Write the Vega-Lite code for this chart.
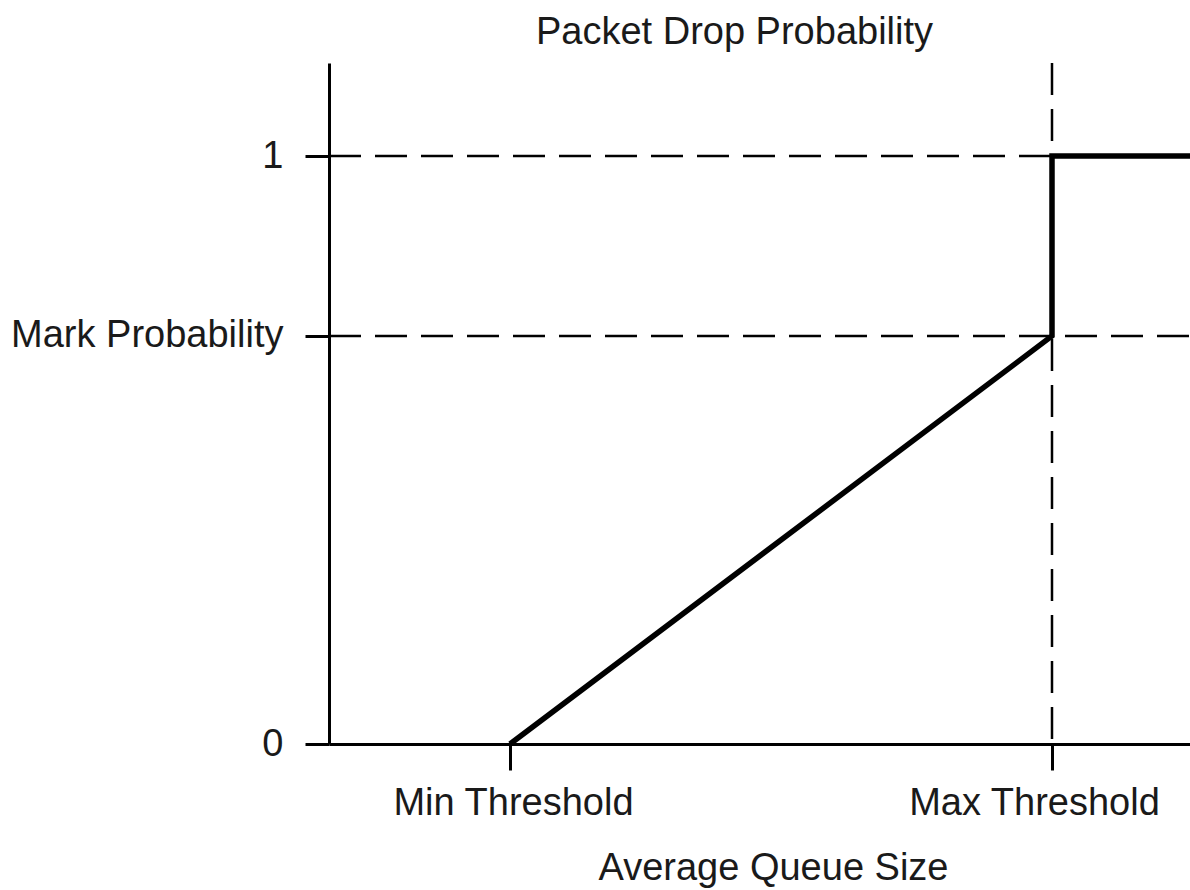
{
  "$schema": "https://vega.github.io/schema/vega-lite/v6.json",
  "width": 861,
  "height": 681,
  "autosize": {"type": "none"},
  "padding": {"left": 329, "top": 63, "right": 0, "bottom": 146},
  "background": "white",
  "config": {"view": {"stroke": null}, "font": "Liberation Sans"},
  "datasets": {
    "curve": [
      {"i": 0, "q": 181, "p": 0},
      {"i": 1, "q": 723, "p": 0.6939},
      {"i": 2, "q": 723, "p": 1},
      {"i": 3, "q": 861, "p": 1}
    ],
    "hlines": [{"p": 1}, {"p": 0.6939}],
    "vlines": [{"q": 723}]
  },
  "layer": [
    {
      "data": {"name": "hlines"},
      "mark": {"type": "rule", "stroke": "#000", "strokeWidth": 2.5, "strokeDash": [32, 14]},
      "encoding": {
        "y": {"field": "p", "type": "quantitative"},
        "x": {"datum": 0, "type": "quantitative"},
        "x2": {"datum": 861}
      }
    },
    {
      "data": {"name": "vlines"},
      "mark": {"type": "rule", "stroke": "#000", "strokeWidth": 2.5, "strokeDash": [32, 14]},
      "encoding": {
        "x": {"field": "q", "type": "quantitative"},
        "y": {"datum": 1.1582, "type": "quantitative"},
        "y2": {"datum": 0}
      }
    },
    {
      "data": {"name": "curve"},
      "mark": {"type": "line", "stroke": "#000", "strokeWidth": 5.5, "strokeJoin": "miter", "strokeCap": "butt"},
      "encoding": {
        "order": {"field": "i", "type": "quantitative"},
        "x": {
          "field": "q", "type": "quantitative",
          "scale": {"domain": [0, 861], "nice": false, "zero": false},
          "axis": {
            "values": [181, 723],
            "labelExpr": "datum.value < 500 ? 'Min Threshold' : 'Max Threshold'",
            "grid": false,
            "domainColor": "#000", "domainWidth": 3,
            "tickColor": "#000", "tickWidth": 3, "tickSize": 26,
            "labelFontSize": 38, "labelColor": "#1a1a1a", "labelPadding": 14, "labelLimit": 500,
            "labelOffset": {"condition": {"test": "datum.value > 500", "value": -18}, "value": 3},
            "labelBound": false, "labelOverlap": false, "labelFlush": false,
            "title": "Average Queue Size",
            "titleX": 444, "titleY": 135, "titleAlign": "center", "titleBaseline": "alphabetic",
            "titleFontSize": 38, "titleFontWeight": "normal", "titleColor": "#1a1a1a"
          }
        },
        "y": {
          "field": "p", "type": "quantitative",
          "scale": {"domain": [0, 1.1582], "nice": false, "zero": false},
          "axis": {
            "values": [0, 0.6939, 1],
            "labelExpr": "datum.value == 0 ? '0' : (datum.value == 1 ? '1' : 'Mark Probability')",
            "grid": false,
            "domainColor": "#000", "domainWidth": 3,
            "tickColor": "#000", "tickWidth": 3, "tickSize": 24,
            "labelFontSize": 38, "labelColor": "#1a1a1a", "labelPadding": 22, "labelLimit": 500,
            "labelBound": false, "labelOverlap": false, "labelFlush": false,
            "title": "Packet Drop Probability",
            "titleAngle": 0, "titleX": 405, "titleY": -20, "titleAlign": "center", "titleBaseline": "alphabetic",
            "titleFontSize": 38, "titleFontWeight": "normal", "titleColor": "#1a1a1a"
          }
        }
      }
    }
  ]
}
